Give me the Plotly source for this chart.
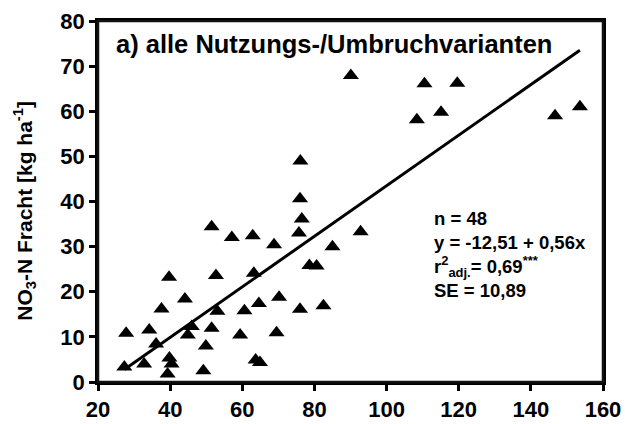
import plotly.graph_objects as go

# data
x_vals = [27.8, 27.3, 32.8, 34.2, 36.1, 37.6, 39.7, 39.8, 40.4, 39.3,
          44.1, 44.9, 46.0, 49.9, 49.2, 51.5, 51.5, 52.7, 53.1, 57.1,
          59.4, 60.6, 62.9, 63.2, 63.7, 64.9, 64.6, 68.8, 70.2, 69.5,
          76.0, 76.1, 76.5, 75.7, 76.0, 78.6, 80.6, 82.5, 85.0, 92.8,
          110.5, 119.6, 115.1, 108.4, 146.7, 153.6, 90.1]
y_vals = [10.8, 3.3, 4.0, 11.5, 8.4, 16.2, 23.2, 5.3, 4.0, 1.8,
          18.4, 10.4, 12.3, 8.0, 2.5, 11.9, 34.4, 23.6, 15.7, 32.0,
          10.4, 15.8, 32.4, 24.1, 4.9, 4.3, 17.4, 30.4, 18.8, 10.9,
          40.6, 49.0, 36.1, 33.0, 16.1, 25.8, 25.7, 16.9, 30.0, 33.3,
          66.1, 66.2, 59.8, 58.1, 59.0, 61.0, 67.9]
intercept = -12.51
slope = 0.56
x_ticks = [20, 40, 60, 80, 100, 120, 140, 160]
y_ticks = [0, 10, 20, 30, 40, 50, 60, 70, 80]

title_text = "<b>a) alle Nutzungs-/Umbruchvarianten</b>"
stats_text = ("<b>n = 48<br>y = -12,51 + 0,56x<br>"
              "r<sup>2</sup><sub>adj.</sub>= 0,69<sup>***</sup><br>SE = 10,89</b>")
y_title = "<b>NO<sub>3</sub>-N Fracht [kg ha<sup>-1</sup>]</b>"

FONT = "Arial, Liberation Sans, sans-serif"

line_x = [min(x_vals), max(x_vals)]
line_y = [intercept + slope * v for v in line_x]

fig = go.Figure()
fig.add_trace(go.Scatter(x=line_x, y=line_y, mode="lines",
                         line=dict(color="black", width=3), showlegend=False,
                         hoverinfo="skip"))
fig.add_trace(go.Scatter(x=x_vals, y=y_vals, mode="markers",
                         marker=dict(symbol="triangle-up", size=14, color="black",
                                     line=dict(width=0)),
                         showlegend=False))

fig.add_annotation(x=24.4, y=74.9, xref="x", yref="y", text=title_text,
                   showarrow=False, xanchor="left", yanchor="middle",
                   font=dict(family=FONT, size=25.5, color="black"))
fig.add_annotation(x=112.6, y=38.9, xref="x", yref="y", text=stats_text,
                   showarrow=False, xanchor="left", yanchor="top", align="left",
                   font=dict(family=FONT, size=18.5, color="black"))
fig.add_annotation(x=-0.145, y=0.474, xref="paper", yref="paper", text=y_title,
                   showarrow=False, textangle=-90, xanchor="center", yanchor="middle",
                   font=dict(family=FONT, size=21, color="black"))

# frame around the plot area
fig.add_shape(type="rect", xref="paper", yref="paper", x0=0, x1=1, y0=0, y1=1,
              line=dict(color="#111111", width=2.5), layer="above")

axis_common = dict(showgrid=False, zeroline=False, showline=True, linecolor="black",
                   linewidth=2.5, mirror=True, ticks="outside", ticklen=6, tickwidth=2.5,
                   tickcolor="black", automargin=False,
                   tickfont=dict(family=FONT, size=22, color="black"))

fig.update_xaxes(range=[20, 160], tickvals=x_ticks,
                 ticktext=[f"<b>{v}</b>" for v in x_ticks], **axis_common)
fig.update_yaxes(range=[0, 80], tickvals=y_ticks,
                 ticktext=[f"<b>{v}</b>" for v in y_ticks], **axis_common)

fig.update_layout(width=625, height=424,
                  margin=dict(l=98, r=22, t=21, b=42, pad=0),
                  plot_bgcolor="white", paper_bgcolor="white",
                  font=dict(family=FONT, color="black"))

fig.write_html("out.html", config={"displayModeBar": False},
               post_script="document.body.style.margin='0';document.body.style.overflow='hidden';")
